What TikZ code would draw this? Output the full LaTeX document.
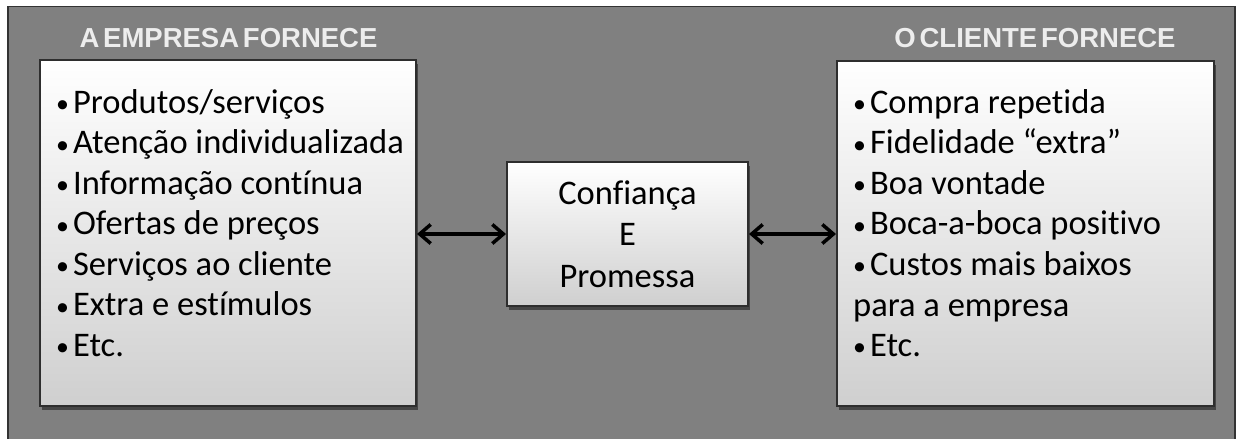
\documentclass[tikz,border=0pt]{standalone}
\usepackage{fontspec}
\setmainfont{Carlito}[Ligatures=NoCommon]
\newfontfamily\titlefont{Liberation Sans}[WordSpace=0.5]
\usetikzlibrary{arrows.meta,shadows}
\definecolor{bggray}{HTML}{808080}
\definecolor{frame}{HTML}{333333}
\definecolor{boxedge}{HTML}{2E2E2E}
\definecolor{boxbot}{HTML}{CFCFCF}
\definecolor{titlecol}{HTML}{EDEDED}
\newcommand{\bul}{\raisebox{0.5pt}{\scalebox{0.75}{•}}\hspace{4pt}}
\tikzset{
  panel/.style={draw=boxedge, line width=2pt, top color=white, bottom color=boxbot,
    drop shadow={shadow xshift=2pt, shadow yshift=-4pt, opacity=0.45, fill=black},
    inner sep=0pt},
  item/.style={anchor=base west, inner sep=0pt, text=black,
    font=\fontsize{34.5}{40}\selectfont},
  heading/.style={inner sep=0pt, text=titlecol, font=\titlefont\bfseries\fontsize{27.5}{30}\selectfont},
  link/.style={{Straight Barb[length=11pt,width=19pt,line width=3.5pt]}-{Straight Barb[length=11pt,width=19pt,line width=3.5pt]}, line width=3.5pt, black},
}
\begin{document}
\begin{tikzpicture}[x=1pt,y=-1pt]
\useasboundingbox (0,0) rectangle (1240,439);
\fill[white] (0,0) rectangle (1240,439);
\node[draw=frame, fill=bggray, line width=1.5pt, minimum width=1227pt, minimum height=440pt, inner sep=0pt] (bg) at (621.5,226.5) {};
\node[heading] (t1) at (228.5,38) {A EMPRESA FORNECE};
\node[heading] (t2) at (1035,38) {O CLIENTE FORNECE};
\node[panel, minimum width=376pt, minimum height=346pt] (lbox) at (228,233) {};
\node[panel, minimum width=377pt, minimum height=345pt] (rbox) at (1025.5,233.5) {};
\node[panel, minimum width=241pt, minimum height=144pt, align=center,
  font=\fontsize{34.5}{41.5}\selectfont] (mid) at (627.5,234) {Confiança\\E\\Promessa};
\foreach \t [count=\i] in {Produtos/serviços,Atenção individualizada,Informação contínua,Ofertas de preços,Serviços ao cliente,Extra e estímulos,Etc.}
  \node[item] (l\i) at (56,{113+40.5*(\i-1)}) {\bul\t};
\foreach \t [count=\i] in {Compra repetida,Fidelidade “extra”,Boa vontade,Boca-a-boca positivo,Custos mais baixos}
  \node[item] (r\i) at (853,{113+40.5*(\i-1)}) {\bul\t};
\node[item] (r6) at (853,316) {para a empresa};
\node[item] (r7) at (853,356) {\bul Etc.};
\draw[link] (lbox.east |- mid.west) -- (mid.west);
\draw[link] (mid.east) -- (rbox.west |- mid.east);
\end{tikzpicture}
\end{document}
